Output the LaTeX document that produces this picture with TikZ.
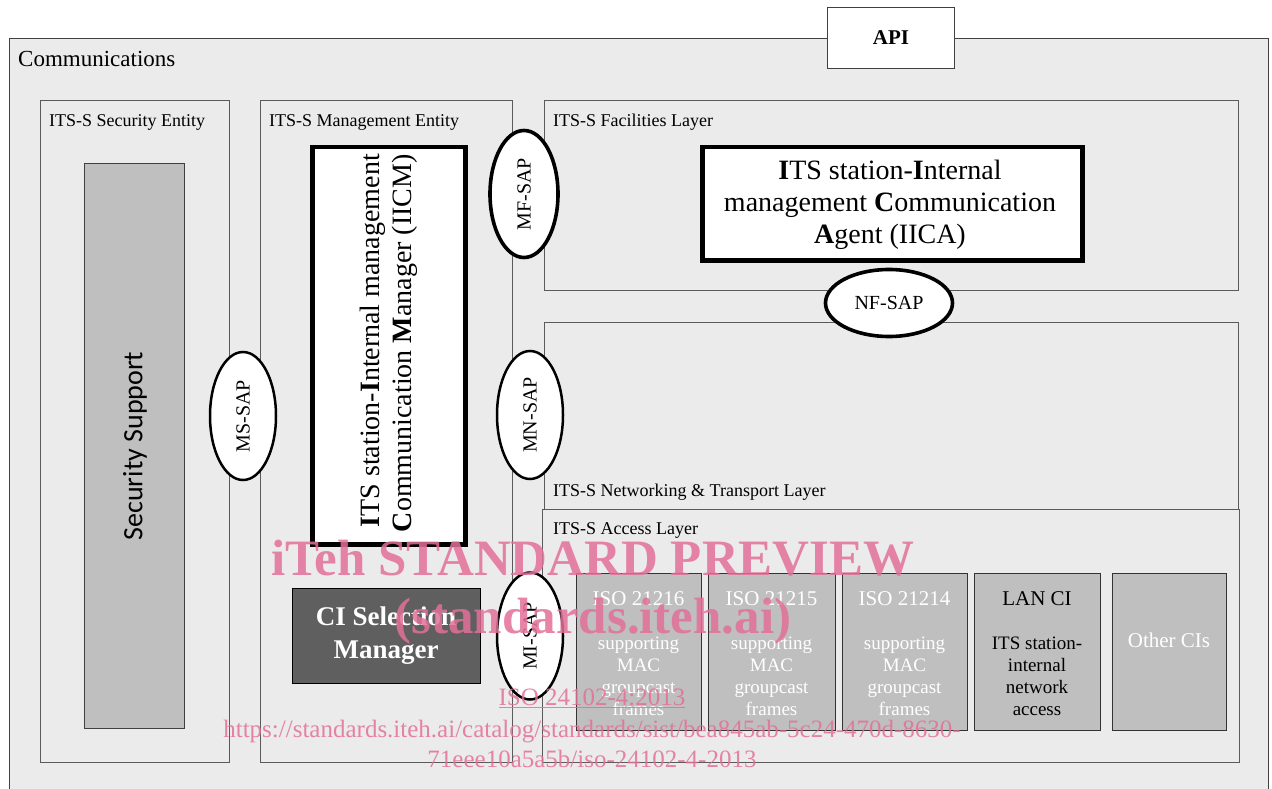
\documentclass[tikz,border=0pt]{standalone}
\usepackage{fontspec}
\setmainfont{Liberation Serif}
\newfontfamily\calfont{Carlito}
\usetikzlibrary{shapes.geometric}
\definecolor{bg}{HTML}{EBEBEB}
\definecolor{lyr}{HTML}{5A5A5A}
\definecolor{cig}{HTML}{BFBFBF}
\definecolor{dk}{HTML}{5F5F5F}
\definecolor{wmcol}{RGB}{226,112,152}
\newcommand\myfs[2]{\fontsize{#1}{#2}\selectfont}
\begin{document}
\begin{tikzpicture}[x=1pt,y=-1pt,
  box/.style={draw=lyr, line width=1.2pt, fill=bg, inner sep=0pt, anchor=north west, rectangle},
  cibox/.style={draw=black!80, line width=1.2pt, fill=cig, inner sep=0pt, anchor=north west, rectangle, minimum height=157pt},
  thickbox/.style={draw=black, line width=4.5pt, fill=white, inner sep=0pt, anchor=north west, rectangle},
  lbl/.style={inner sep=0pt, anchor=base west, font=\myfs{18}{21}},
  sap/.style={ellipse, draw=black, line width=2.5pt, fill=white, inner sep=0pt, font=\myfs{20}{24}},
  thicksap/.style={sap, line width=3.6pt},
  cititle/.style={inner sep=0pt, anchor=base, font=\myfs{21}{24}, text=white},
  cibody/.style={inner sep=0pt, anchor=base, align=center, font=\myfs{19}{21.7}, text=white},
  wm/.style={inner sep=0pt, anchor=base, text=wmcol, text opacity=0.85}
]
\useasboundingbox (0,0) rectangle (1272,789);
\clip (0,0) rectangle (1272,789);
\fill[white] (0,0) rectangle (1272,789);

% outer box
\node[draw=black!75, line width=1pt, fill=bg, inner sep=0pt, anchor=north west, minimum width=1259pt, minimum height=780pt] (comm) at (9,38) {};
\node[inner sep=0pt, anchor=base west, font=\myfs{23}{26}] (commlbl) at (18,67) {Communications};
\node[draw=black!75, line width=1pt, fill=white, inner sep=0pt, anchor=north west, minimum width=127pt, minimum height=61pt] (api) at (827,7) {};
\node[font=\bfseries\myfs{21}{24}] (apit) at (api.center) {API};

% security entity
\node[box, minimum width=189pt, minimum height=662pt] (sec) at (40,100) {};
\node[lbl] (seclbl) at (49,127) {ITS-S Security Entity};
\node[box, fill=cig, draw=black!75, minimum width=100pt, minimum height=565pt] (secsup) at (84,163) {};
\node[rotate=90, inner sep=0pt, font=\calfont\myfs{28}{30}] (secsupt) at (135,446) {Security Support};

% management entity
\node[box, minimum width=252pt, minimum height=662pt] (mgmt) at (260,100) {};
\node[lbl] (mgmtlbl) at (269,127) {ITS-S Management Entity};
\node[thickbox, minimum width=153pt, minimum height=397pt] (iicm) at (310,145) {};
\node[rotate=90, anchor=east, align=right, inner sep=0pt, font=\myfs{28}{32}] (iicmt) at (389,154)
  {\textbf{I}TS station-\textbf{I}nternal management\\\textbf{C}ommunication \textbf{M}anager (IICM)};
\node[box, fill=dk, draw=black, minimum width=188pt, minimum height=95pt] (cisel) at (292,588) {};
\node[align=center, inner sep=0pt, text=white, font=\bfseries\myfs{27}{33}] (ciselt) at (386,636) {CI Selection\\Manager};

% facilities layer
\node[box, minimum width=694pt, minimum height=190pt] (fac) at (544,100) {};
\node[lbl] (faclbl) at (553,127) {ITS-S Facilities Layer};
\node[thickbox, minimum width=380pt, minimum height=113pt] (iica) at (700,145) {};
\node[align=center, inner sep=0pt, font=\myfs{28}{32}] (iicat) at (890,205)
  {\textbf{I}TS station-\textbf{I}nternal\\management \textbf{C}ommunication\\\textbf{A}gent (IICA)};

% networking & transport layer
\node[box, minimum width=694pt, minimum height=187pt] (net) at (544,322) {};
\node[lbl] (netlbl) at (553,496) {ITS-S Networking \& Transport Layer};

% access layer
\node[box, minimum width=697pt, minimum height=253pt] (acc) at (542,509) {};
\node[lbl] (acclbl) at (553,534) {ITS-S Access Layer};

% CIs
\node[cibox, minimum width=125pt] (ci1) at (576,573) {};
\node[cibox, minimum width=127pt] (ci2) at (708,573) {};
\node[cibox, minimum width=125pt] (ci3) at (842,573) {};
\node[cibox, minimum width=126pt] (ci4) at (974,573) {};
\node[cibox, minimum width=114pt] (ci5) at (1112,573) {};

\node[cititle] (ci1t) at (638.5,605) {ISO 21216};
\node[cibody] (ci1b) at (638.5,715) {supporting\\MAC\\groupcast\\frames};
\node[cititle] (ci2t) at (771.5,605) {ISO 21215};
\node[cibody] (ci2b) at (771.5,715) {supporting\\MAC\\groupcast\\frames};
\node[cititle] (ci3t) at (904.5,605) {ISO 21214};
\node[cibody] (ci3b) at (904.5,715) {supporting\\MAC\\groupcast\\frames};
\node[cititle, text=black] (ci4t) at (1037,605) {LAN CI};
\node[cibody, text=black] (ci4b) at (1037,715) {ITS station-\\internal\\network\\access};
\node[cititle] (ci5t) at (1169,647) {Other CIs};

% SAPs
\node[sap, rotate=90, minimum width=128pt, minimum height=66pt] (mssap) at (243,416) {MS-SAP};
\node[thicksap, rotate=90, minimum width=127pt, minimum height=68pt] (mfsap) at (524,194) {MF-SAP};
\node[sap, rotate=90, minimum width=128pt, minimum height=66pt] (mnsap) at (530,415) {MN-SAP};
\node[sap, rotate=90, minimum width=127pt, minimum height=66pt] (misap) at (530,636) {MI-SAP};
\node[thicksap, minimum width=127pt, minimum height=67pt] (nfsap) at (889,303) {NF-SAP};

% watermark
\node[wm, font=\bfseries\myfs{51}{51}] (wm1) at (593,575) {iTeh STANDARD PREVIEW};
\node[wm, font=\bfseries\myfs{51}{51}] (wm2) at (593,633) {(standards.iteh.ai)};
\node[wm, font=\myfs{25}{25}] (wm3) at (592,705) {\underline{ISO 24102-4:2013}};
\node[wm, font=\myfs{25}{25}] (wm4) at (592,737) {https://standards.iteh.ai/catalog/standards/sist/bea845ab-5c24-470d-8630-};
\node[wm, font=\myfs{25}{25}] (wm5) at (592,767) {71eee10a5a5b/iso-24102-4-2013};
\end{tikzpicture}
\end{document}
